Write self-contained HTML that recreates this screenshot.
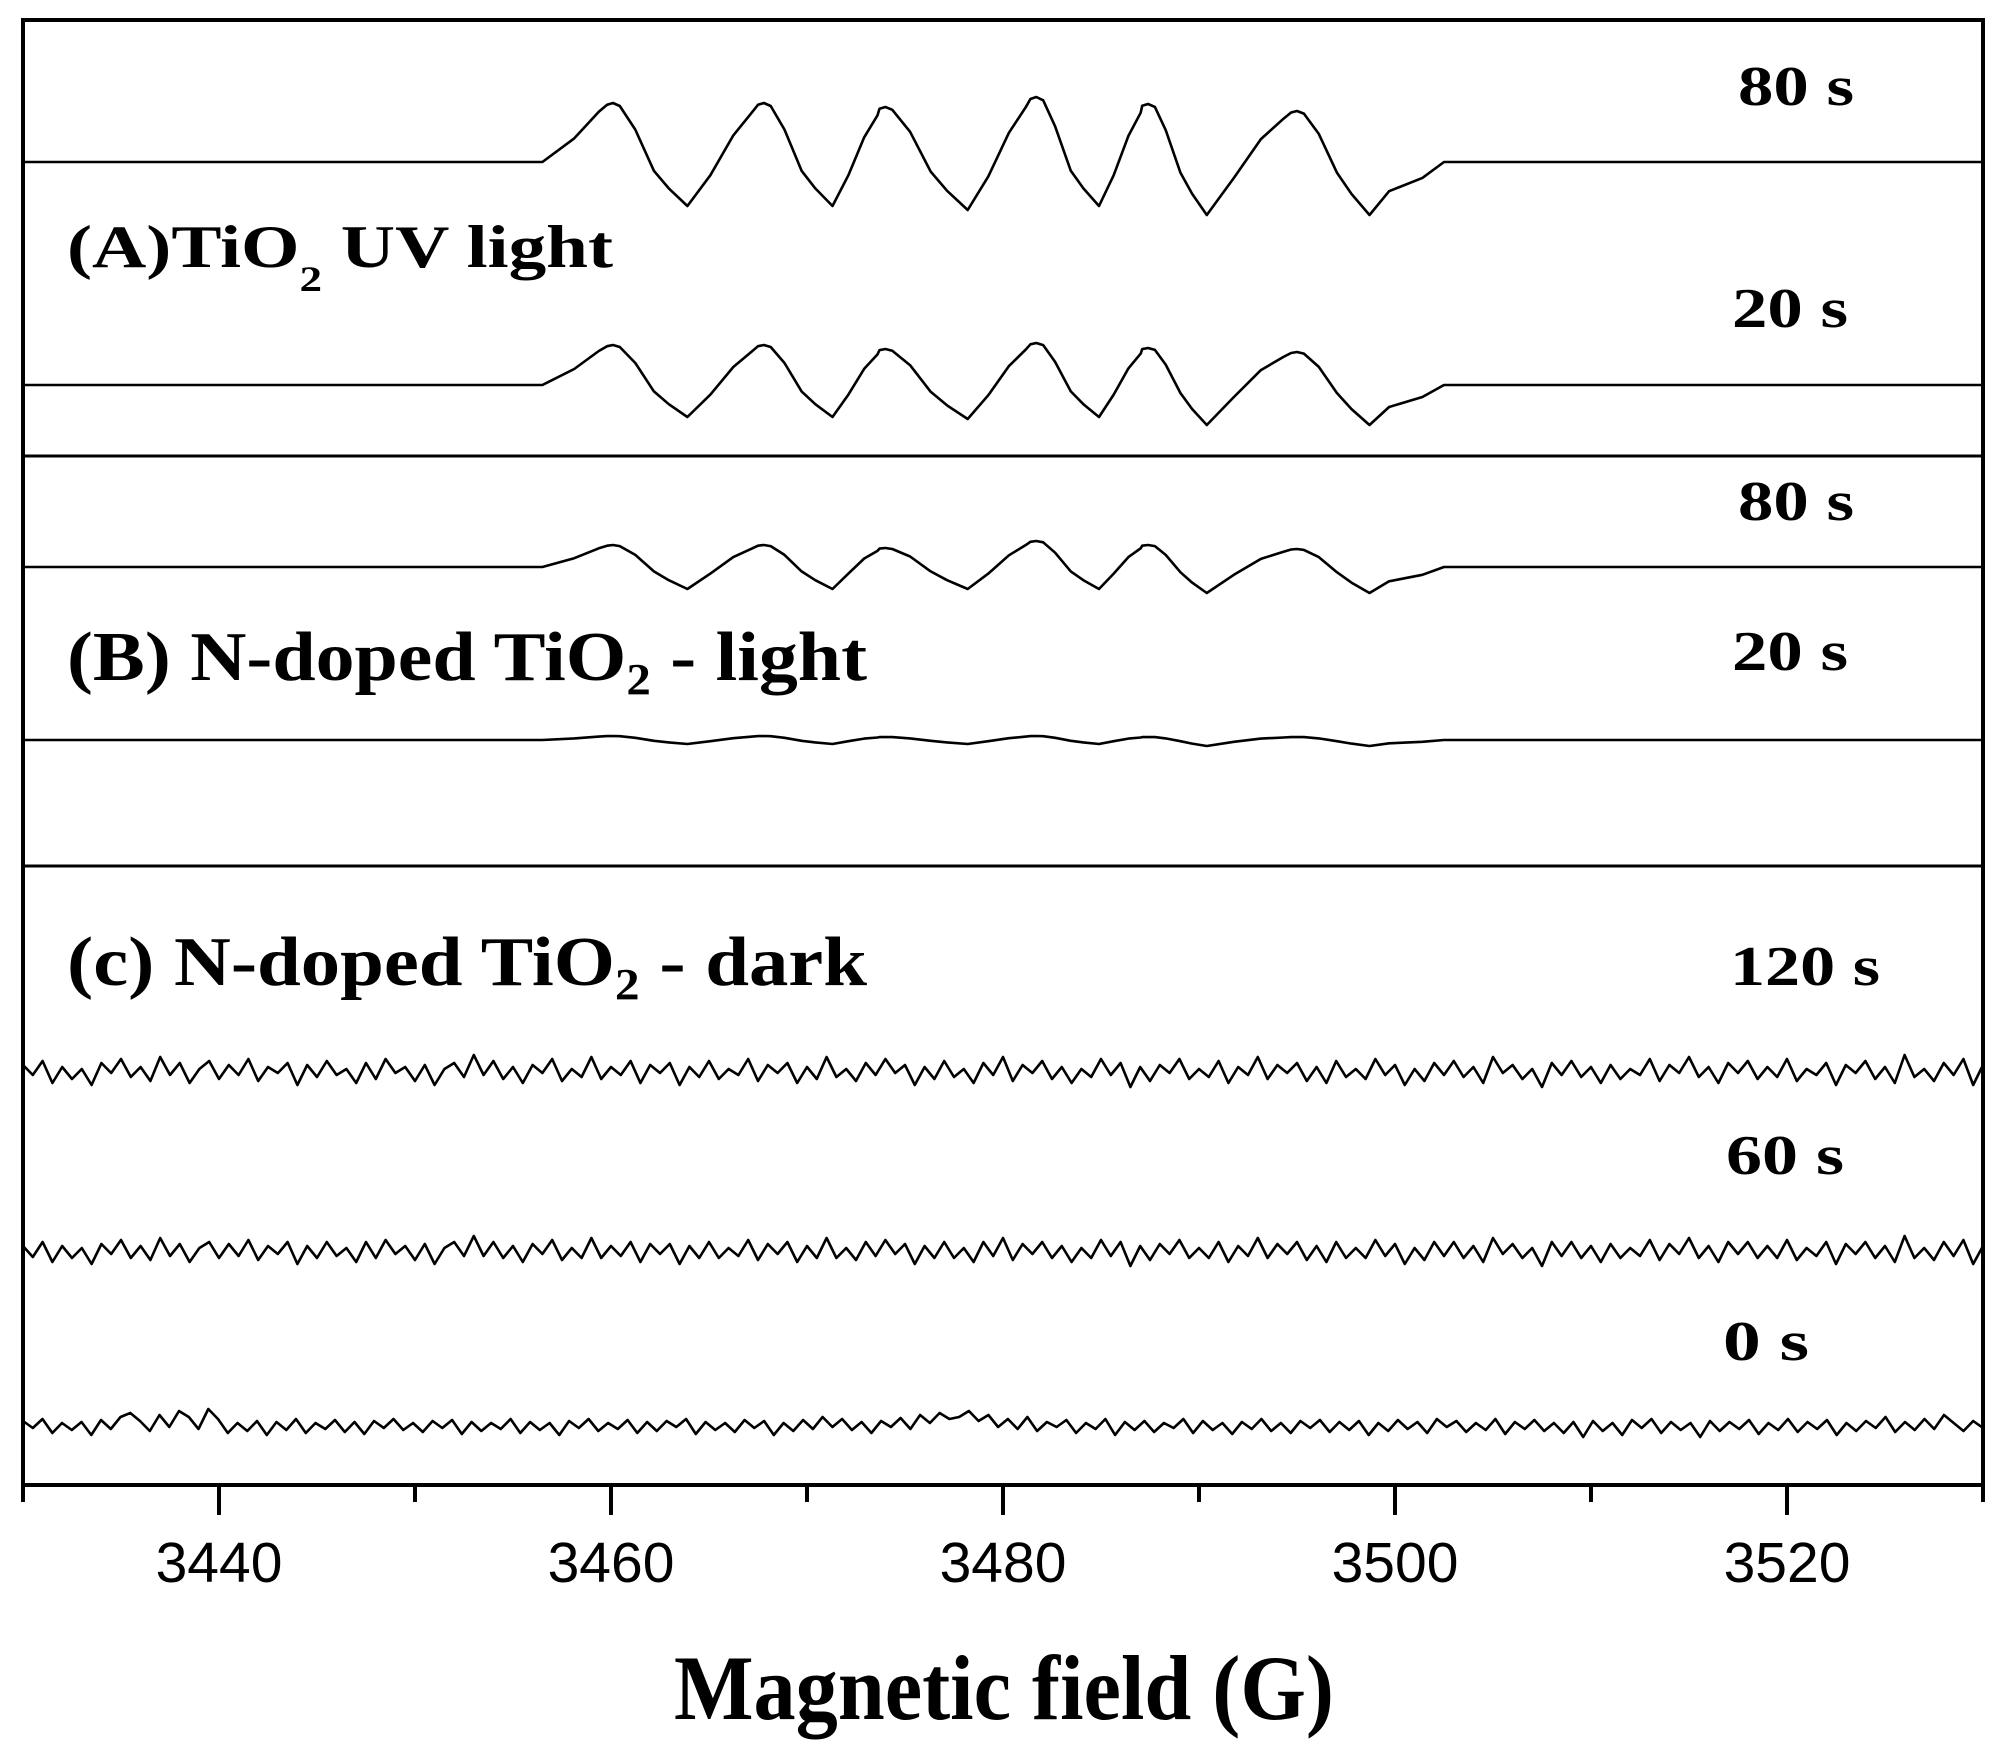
<!DOCTYPE html>
<html><head><meta charset="utf-8"><style>
html,body{margin:0;padding:0;background:#fff;}
svg{display:block;}
text{font-family:"Liberation Serif",serif;font-weight:bold;fill:#000;}
.tick{font-family:"Liberation Sans",sans-serif;font-weight:normal;font-size:57px;}
</style></head><body>
<svg id="chart" width="2013" height="1757" viewBox="0 0 2013 1757" xmlns="http://www.w3.org/2000/svg">
<g id="frame"></g>
<g id="series"></g>
<g id="axis"></g>
<text x="67" y="267" font-size="60" textLength="546" lengthAdjust="spacingAndGlyphs">(A)TiO<tspan font-size="36" dy="24">2</tspan><tspan dy="-24">  UV light</tspan></text>
<text x="67" y="680" font-size="70" textLength="800" lengthAdjust="spacingAndGlyphs">(B) N-doped TiO<tspan font-size="44" dy="14">2</tspan><tspan dy="-14"> - light</tspan></text>
<text x="67" y="985" font-size="70" textLength="800" lengthAdjust="spacingAndGlyphs">(c) N-doped TiO<tspan font-size="44" dy="14">2</tspan><tspan dy="-14"> - dark</tspan></text>
<text x="1738" y="105" font-size="56" textLength="116" lengthAdjust="spacingAndGlyphs">80 s</text>
<text x="1732" y="327" font-size="56" textLength="116" lengthAdjust="spacingAndGlyphs">20 s</text>
<text x="1738" y="520" font-size="56" textLength="116" lengthAdjust="spacingAndGlyphs">80 s</text>
<text x="1732" y="670" font-size="56" textLength="116" lengthAdjust="spacingAndGlyphs">20 s</text>
<text x="1730" y="985" font-size="56" textLength="150" lengthAdjust="spacingAndGlyphs">120 s</text>
<text x="1726" y="1174" font-size="56" textLength="118" lengthAdjust="spacingAndGlyphs">60 s</text>
<text x="1723" y="1360" font-size="56" textLength="86" lengthAdjust="spacingAndGlyphs">0 s</text>
<text x="674" y="1719" font-size="92" textLength="660" lengthAdjust="spacingAndGlyphs">Magnetic field (G)</text>
</svg>
<script>
// ---- data ----
const xTicks = [3440, 3460, 3480, 3500, 3520];
const xMinorTicks = [3430, 3450, 3470, 3490, 3510, 3530];
const lineFields = [3460.1, 3467.8, 3474.0, 3481.7, 3487.4, 3495.0];
const troughFields = [3463.9, 3471.3, 3478.2, 3484.9, 3490.4, 3498.7];
const a80Peaks = [59, 59, 55, 65, 58, 51];
const a80Troughs = [-44, -44, -48, -44, -53, -53];
const a20Peaks = [40, 40, 36, 42, 37, 33];
const a20Troughs = [-32, -32, -34, -32, -40, -40];
const b80Peaks = [22, 22, 19, 26, 22, 18];
const b80Troughs = [-22, -22, -22, -22, -26, -26];
const b20Peaks = [4, 4, 3, 4, 3, 3];
const b20Troughs = [-4, -4, -4, -4, -6, -6];
const c120Noise = [6,-4,10,-12,4,-8,2,-14,8,-2,12,-6,4,-10,14,-4,8,-12,2,10,-8,6,-4,12,-10,4,-2,8,-14,6,-6,10,-4,2,-12,8,-8,12,-2,4,-10,6,-14,2,8,-6,16,-4,10,-8,4,-12,6,-2,12,-10,2,-6,14,-8,4,-4,10,-12,6,-2,8,-14,4,-6,10,-8,2,-4,12,-10,6,-2,8,-12,4,-8,14,-6,2,-10,8,-4,12,-2,6,-14,4,-8,10,-6,2,-12,8,-4,14,-10,6,-2,10,-8,4,-12,2,-6,12,-4,8,-16,4,-10,6,-2,12,-8,2,-6,10,-12,4,-4,14,-8,6,-2,8,-10,4,-12,10,-6,2,-8,12,-4,6,-14,2,-10,8,-4,10,-6,4,-12,14,-2,6,-8,2,-16,8,-4,10,-6,4,-12,6,-8,2,-4,12,-10,6,-2,14,-6,4,-12,8,-2,10,-8,4,-6,12,-10,2,-4,8,-14,6,-2,10,-8,4,-12,16,-6,2,-10,8,-4,12,-14,6];
const c60Noise = [5,-6,9,-11,5,-7,3,-13,7,-3,11,-7,5,-9,13,-5,7,-11,3,9,-7,7,-5,11,-9,5,-3,9,-13,5,-7,9,-5,3,-11,9,-7,11,-3,5,-9,7,-13,3,9,-5,15,-5,9,-7,5,-11,7,-3,11,-9,3,-7,13,-7,5,-5,9,-11,7,-3,7,-13,5,-7,9,-7,3,-5,11,-9,7,-3,9,-11,5,-7,13,-7,3,-9,9,-5,11,-3,7,-13,5,-7,9,-7,3,-11,9,-5,13,-9,7,-3,9,-7,5,-11,3,-7,11,-5,9,-15,5,-9,7,-3,11,-7,3,-7,9,-11,5,-5,13,-7,7,-3,9,-9,5,-11,9,-7,3,-7,11,-5,7,-13,3,-9,9,-5,9,-7,5,-11,13,-3,7,-7,3,-15,9,-5,9,-7,5,-11,7,-7,3,-5,11,-9,7,-3,13,-7,5,-11,9,-3,9,-7,5,-7,11,-9,3,-5,9,-13,7,-3,9,-7,5,-11,15,-7,3,-9,9,-5,11,-13,5];
const c0Noise = [4,-3,6,-8,2,-5,3,-10,5,-4,8,12,4,-6,10,-2,14,8,-4,16,6,-8,2,-6,4,-10,3,-5,6,-8,2,-4,5,-7,3,-9,4,-3,6,-5,2,-7,4,-3,5,-9,3,-6,2,-4,6,-8,3,-5,2,-10,4,-3,6,-6,2,-4,5,-8,3,-6,4,-2,6,-9,3,-5,2,-7,5,-3,4,-10,2,-6,5,-4,8,-2,6,-5,3,-8,4,-2,7,-4,10,2,12,6,8,14,4,10,-2,6,-4,8,-6,3,-2,5,-8,2,-4,6,-10,3,-5,4,-7,2,-3,6,-8,4,-5,2,-9,3,-4,6,-6,2,-8,4,-3,5,-7,3,-5,4,-10,2,-6,5,-4,3,-8,6,-2,4,-7,2,-5,6,-9,3,-4,5,-6,2,-8,3,-12,4,-6,2,-10,5,-3,6,-8,3,-5,2,-12,4,-6,3,-4,5,-9,2,-5,6,-7,3,-4,5,-10,2,-6,4,-3,8,-7,3,-5,6,-4,10,2,-6,4,-3];
const noiseStart = 3430, noiseEnd = 3530;
const riseStart = 3456.5, flatEnd = 3502.5;

// ---- scales ----
const X0 = 23, X1 = 1983, G0 = 3430, G1 = 3530;
function xs(g){ return X0 + (g - G0) * (X1 - X0) / (G1 - G0); }
function ys(base, v){ return base - v; }

const NS = "http://www.w3.org/2000/svg";
function mk(tag, attrs, parent){
  const e = document.createElementNS(NS, tag);
  for (const k in attrs) e.setAttribute(k, attrs[k]);
  parent.appendChild(e);
  return e;
}

// frame
const frame = document.getElementById('frame');
const border = mk('rect', {x:X0, y:20, width:X1-X0, height:1485-20, fill:'none', stroke:'#000', 'stroke-width':4}, frame);


const div1 = mk('line', {x1:X0, x2:X1, y1:456, y2:456, stroke:'#000', 'stroke-width':3}, frame);


const div2 = mk('line', {x1:X0, x2:X1, y1:866, y2:866, stroke:'#000', 'stroke-width':3}, frame);



// axis ticks
const axis = document.getElementById('axis');
const AY = 1485;
xTicks.forEach(t => {
  const l = mk('line', {x1:xs(t), x2:xs(t), y1:AY, y2:AY+30, stroke:'#000', 'stroke-width':4}, axis);
  
  
  const tx = mk('text', {x:xs(t), y:1582, 'text-anchor':'middle', class:'tick'}, axis);
  tx.textContent = String(t);
  
  
});
xMinorTicks.forEach(t => {
  const l = mk('line', {x1:xs(t), x2:xs(t), y1:AY, y2:AY+17, stroke:'#000', 'stroke-width':4}, axis);
  
  
});

// spectra
const series = document.getElementById('series');
function hyperfine(peaks, troughs){
  const pts = [[G0,0],[riseStart,0]];
  pts.push([riseStart + (lineFields[0]-riseStart)*0.45, peaks[0]*0.4]);
  pts.push([riseStart + (lineFields[0]-riseStart)*0.8, peaks[0]*0.85]);
  for (let i=0;i<lineFields.length;i++){
    const p = lineFields[i], t = troughFields[i];
    pts.push([p - 0.3, peaks[i]*0.97]);
    pts.push([p, peaks[i]]);
    pts.push([p + 0.35, peaks[i]*0.95]);
    pts.push([p + (t-p)*0.3, peaks[i]*0.55]);
    pts.push([p + (t-p)*0.55, troughs[i]*0.2]);
    pts.push([p + (t-p)*0.75, troughs[i]*0.6]);
    pts.push([t, troughs[i]]);
    if (i < lineFields.length-1){
      const n = lineFields[i+1];
      pts.push([t + (n-t)*0.3, troughs[i]*0.3]);
      pts.push([t + (n-t)*0.6, peaks[i+1]*0.45]);
      pts.push([t + (n-t)*0.85, peaks[i+1]*0.85]);
    }
  }
  const lt = troughFields[troughFields.length-1];
  pts.push([lt + 1.0, troughs[5]*0.55]);
  pts.push([lt + 2.7, troughs[5]*0.3]);
  pts.push([flatEnd, 0]);
  pts.push([G1, 0]);
  return pts;
}
function drawPts(pts, base, name){
  const d = pts.map((p,i)=>(i?'L':'M')+xs(p[0]).toFixed(1)+','+ys(base,p[1]).toFixed(1)).join(' ');
  const path = mk('path', {d:d, fill:'none', stroke:'#000', 'stroke-width':2.6, 'stroke-linejoin':'round'}, series);
  
  
}
function noisePts(arr){
  return arr.map((v,i)=>[noiseStart + i*(noiseEnd-noiseStart)/(arr.length-1), v]);
}
drawPts(hyperfine(a80Peaks, a80Troughs), 162, 'spectrum-a-80s');
drawPts(hyperfine(a20Peaks, a20Troughs), 385, 'spectrum-a-20s');
drawPts(hyperfine(b80Peaks, b80Troughs), 567, 'spectrum-b-80s');
drawPts(hyperfine(b20Peaks, b20Troughs), 740, 'spectrum-b-20s');
drawPts(noisePts(c120Noise), 1071, 'spectrum-c-120s');
drawPts(noisePts(c60Noise), 1251, 'spectrum-c-60s');
drawPts(noisePts(c0Noise), 1425, 'spectrum-c-0s');
</script>
</body></html>
